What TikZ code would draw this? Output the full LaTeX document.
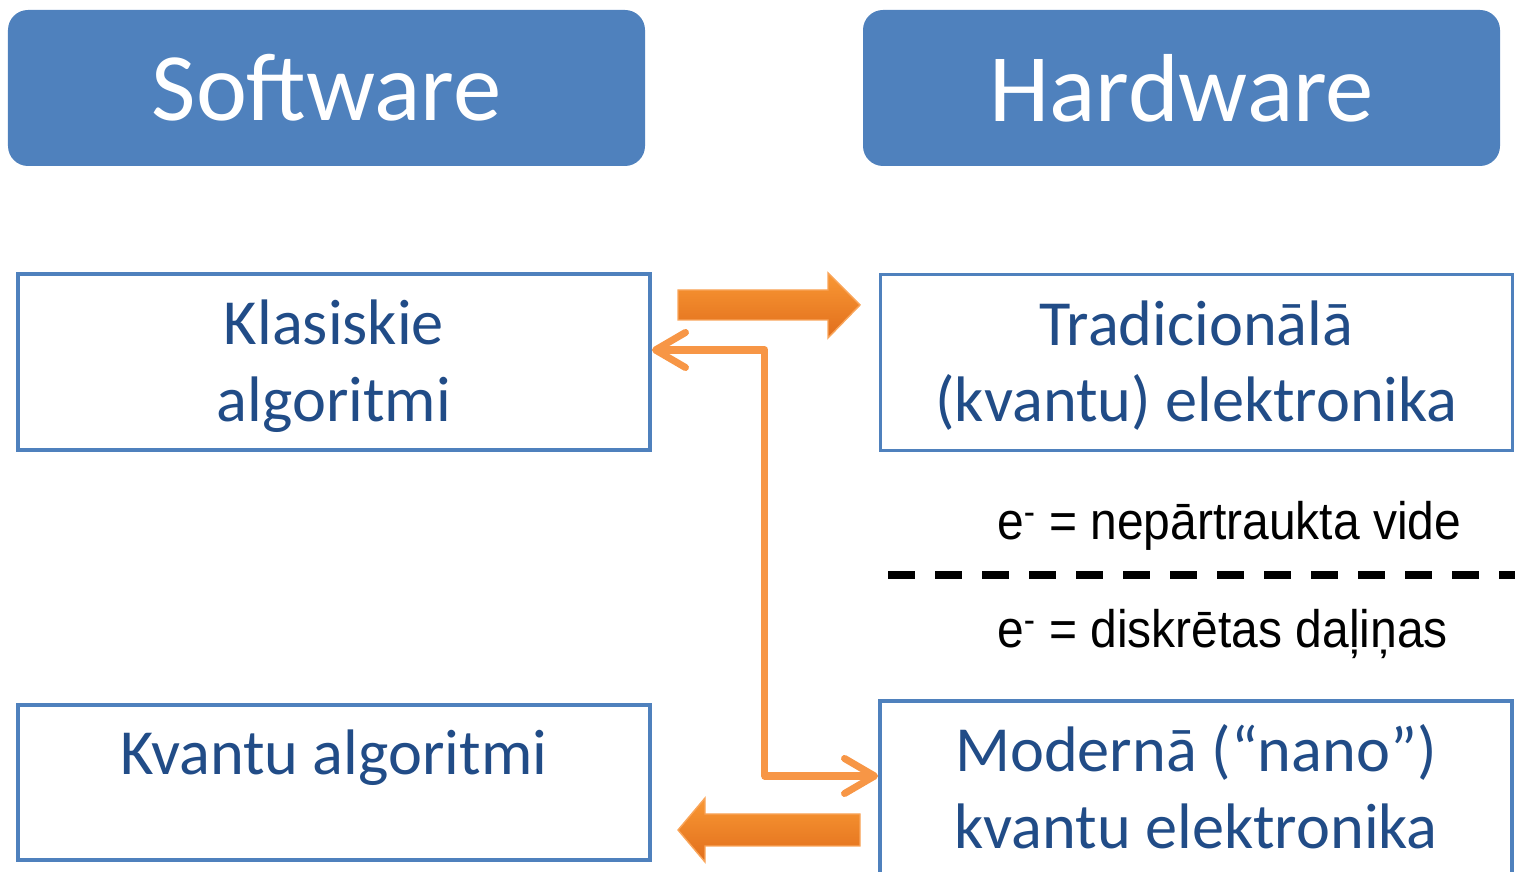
\documentclass[tikz,border=0pt]{standalone}
\usepackage{fontspec}
\setmainfont{Carlito}
\newfontfamily\narrowsans[FakeStretch=0.91]{Liberation Sans}
\usetikzlibrary{arrows.meta}
\definecolor{headblue}{RGB}{79,129,189}
\definecolor{textblue}{RGB}{33,76,135}
\definecolor{linkorange}{RGB}{247,150,70}
\definecolor{arrowtop}{RGB}{249,152,52}
\definecolor{arrowbot}{RGB}{225,110,28}
\definecolor{arrowrim}{RGB}{249,165,90}
% fixed line heights inside the boxes
\newcommand\tallline{\rule{0pt}{1.14cm}}
\newcommand\deepline{\rule[-0.3cm]{0pt}{0.3cm}}

\begin{document}
\begin{tikzpicture}[
    header/.style={fill=headblue, rounded corners=0.4cm, minimum width=12.74cm, minimum height=3.12cm, inner sep=0, text=white, font=\fontsize{55}{60}\selectfont},
    topic/.style={draw=headblue, line width=2.2pt, minimum width=12.64cm, minimum height=3.52cm, inner sep=0, align=center, text=textblue, font=\fontsize{36.6}{43.8}\selectfont},
    fatarrow/.style={draw=arrowrim, line width=0.8pt, top color=arrowtop, bottom color=arrowbot},
    link/.style={draw=linkorange, line width=4pt, line join=round, {Straight Barb[length=0.6cm,width=0.7cm,round]}-{Straight Barb[length=0.6cm,width=0.7cm,round]}},
    note/.style={anchor=base west, font=\narrowsans\fontsize{30}{36}\selectfont}
]
    \clip (0,0) rectangle (30.3,17.44);

    % Column headers
    \node[header] (soft) at (6.53,15.68) {Software};
    \node[header] (hard) at (23.63,15.68) {Hardware};

    % Left column: algorithms
    \node[topic] (klas) at (6.68,10.2) {\tallline Klasiskie\\algoritmi\deepline};
    \node[topic, minimum height=3.1cm, text height=1.4cm, text depth=1.7cm] (kvant) at (6.68,1.79) {Kvantu algoritmi};

    % Right column: electronics
    \node[topic] (trad) at (23.93,10.19) {\tallline Tradicionālā\\(kvantu) elektronika\deepline};
    \node[topic] (mod) at (23.92,1.66) {\tallline Modernā (“nano”)\\kvantu elektronika\deepline};

    % Electron picture, split by a dashed line
    \node[note] (cont) at (19.82,6.64) {e\textsuperscript{-} = nepārtraukta vide};
    \draw[line width=5pt, dash pattern=on 0.54cm off 0.4cm] (17.76,5.94) -- (30.3,5.94);
    \node[note] (disc) at (19.82,4.48) {e\textsuperscript{-} = diskrētas daļiņas};

    % Block arrows between the columns
    \draw[fatarrow] (13.56,11.64) -- (16.56,11.64) -- (16.56,11.98) -- (17.2,11.34) -- (16.56,10.68) -- (16.56,11.04) -- (13.56,11.04) -- cycle;
    \draw[fatarrow] (17.2,1.16) -- (14.1,1.16) -- (14.1,1.48) -- (13.56,0.84) -- (14.1,0.2) -- (14.1,0.52) -- (17.2,0.52) -- cycle;

    % Cross link
    \draw[link] ([yshift=0.24cm]klas.east) -- ++(2.26,0) |- ([yshift=0.26cm]mod.west);
\end{tikzpicture}
\end{document}
